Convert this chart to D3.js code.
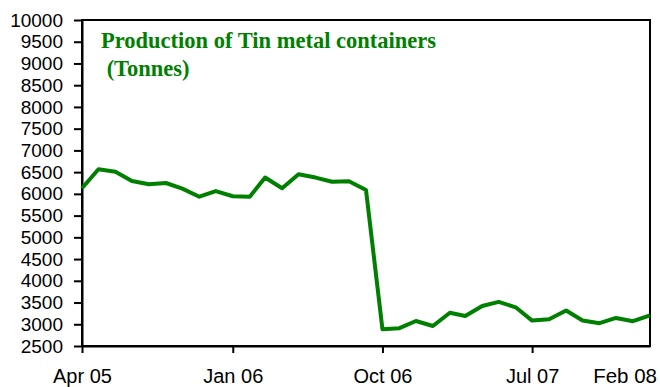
<!DOCTYPE html>
<html>
<head>
<meta charset="utf-8">
<script src="https://cdn.jsdelivr.net/npm/d3@7"></script>
<style>
  html, body { margin: 0; padding: 0; background: #fff; }
  svg { display: block; }
</style>
</head>
<body>
<svg id="chart" width="660" height="387"></svg>
<script>
// Monthly production, Apr 2005 – Feb 2008 (tonnes)
const months = [
  "2005-04","2005-05","2005-06","2005-07","2005-08","2005-09","2005-10","2005-11","2005-12",
  "2006-01","2006-02","2006-03","2006-04","2006-05","2006-06","2006-07","2006-08","2006-09",
  "2006-10","2006-11","2006-12","2007-01","2007-02","2007-03","2007-04","2007-05","2007-06",
  "2007-07","2007-08","2007-09","2007-10","2007-11","2007-12","2008-01","2008-02"
];
const production = [
  6130, 6565, 6510, 6295, 6220, 6250, 6120, 5935, 6065,
  5945, 5935, 6375, 6130, 6450, 6375, 6280, 6290, 6090,
  2885, 2910, 3075, 2960, 3265, 3190, 3420, 3515, 3390,
  3085, 3115, 3315, 3085, 3025, 3145, 3070, 3205
];
const yTicks = d3.range(2500, 10001, 500);
const xTickMonths = ["2005-04", "2006-01", "2006-10", "2007-07"];
const xTickLabels = ["Apr 05", "Jan 06", "Oct 06", "Jul 07", "Feb 08"];
const titleLines = ["Production of Tin metal containers", " (Tonnes)"];

const parse = d3.timeParse("%Y-%m");
const data = months.map((m, i) => ({ date: parse(m), value: production[i] }));

const svg = d3.select("#chart");
const plot = { left: 82, right: 650, top: 20, bottom: 346 };

const x = d3.scaleTime()
  .domain(d3.extent(data, d => d.date))
  .range([plot.left, plot.right]);
const y = d3.scaleLinear()
  .domain([2500, 10000])
  .range([plot.bottom, plot.top]);

// frame
svg.append("rect")
  .attr("x", plot.left).attr("y", plot.top)
  .attr("width", plot.right - plot.left).attr("height", plot.bottom - plot.top)
  .attr("fill", "none").attr("stroke", "#000").attr("stroke-width", 2);

// y axis
const yAxis = svg.append("g")
  .attr("transform", `translate(${plot.left},0)`)
  .call(d3.axisLeft(y).tickValues(yTicks).tickFormat(d3.format("d"))
    .tickSize(8).tickSizeOuter(0).tickPadding(11));
yAxis.select(".domain").attr("stroke-width", 2);
yAxis.selectAll(".tick line").attr("stroke-width", 2);
yAxis.selectAll(".tick text")
  .attr("font-family", "Liberation Sans, Arial, sans-serif")
  .attr("font-size", 19).attr("fill", "#000");

// x axis
const xTicks = xTickMonths.map(parse);
const xAxis = svg.append("g")
  .attr("transform", `translate(0,${plot.bottom})`)
  .call(d3.axisBottom(x).tickValues(xTicks).tickFormat((d, i) => xTickLabels[i])
    .tickSize(7).tickSizeOuter(0).tickPadding(16));
xAxis.select(".domain").attr("stroke-width", 2);
xAxis.selectAll(".tick line").attr("stroke-width", 2);
xAxis.selectAll(".tick text")
  .attr("font-family", "Liberation Sans, Arial, sans-serif")
  .attr("font-size", 20).attr("fill", "#000");

// last label sits flush to the right edge
svg.append("text")
  .attr("x", 657).attr("y", 383)
  .attr("text-anchor", "end")
  .attr("font-family", "Liberation Sans, Arial, sans-serif")
  .attr("font-size", 20.5).attr("fill", "#000")
  .text(xTickLabels[4]);

// series line
const line = d3.line().x(d => x(d.date)).y(d => y(d.value));
svg.append("path")
  .datum(data)
  .attr("d", line)
  .attr("fill", "none")
  .attr("stroke", "#008000")
  .attr("stroke-width", 4)
  .attr("stroke-linejoin", "round");

// title
svg.selectAll("text.title")
  .data(titleLines)
  .join("text")
  .attr("class", "title")
  .attr("x", 101).attr("y", (d, i) => 48 + i * 28)
  .attr("font-family", "Liberation Serif, Times New Roman, serif")
  .attr("font-weight", "bold").attr("font-size", 22.5)
  .attr("fill", "#008000")
  .style("white-space", "pre")
  .text(d => d);
</script>
</body>
</html>
